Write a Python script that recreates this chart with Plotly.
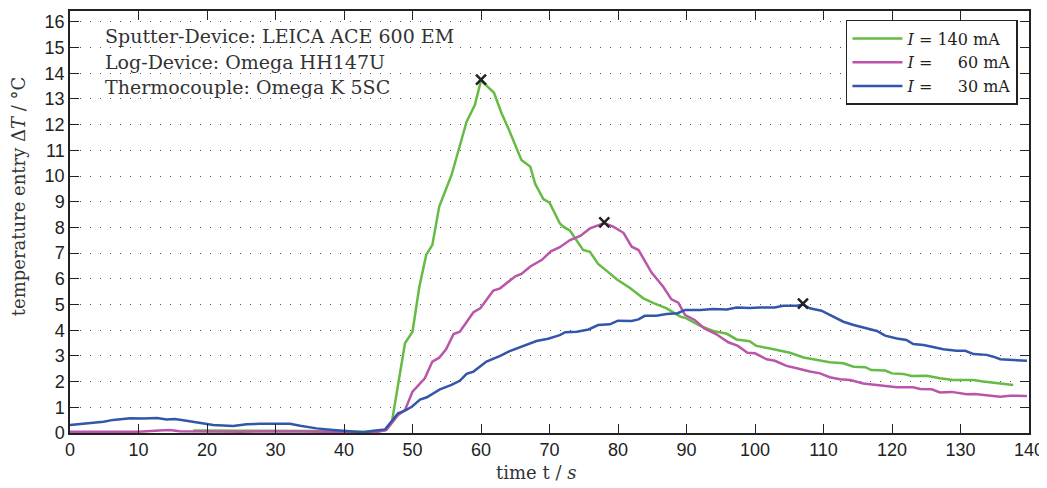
import plotly.graph_objects as go

# ---------------- data ----------------
t_140 = [18, 24, 30, 36, 40, 44, 46, 47, 48.9, 50, 51, 52, 52.9, 53.9, 55.7, 57.9, 59.1, 60, 61.9, 63, 64,
         65.9, 67.2, 67.9, 69.1, 70, 71.5, 72, 73, 74.9, 75.9, 77.1, 78.8, 79.8, 81.8, 83.7, 85.2, 87.1,
         89.1, 90, 92, 93.9, 95.9, 97.3, 99.2, 100.2, 102.2, 103.2, 105.1, 107.1, 109, 110.9, 112.9,
         114.4, 116.1, 117, 119, 120, 121.6, 122.9, 125.1, 127, 128.9, 131.9, 133.3, 135.8, 137.7]
dT_140 = [0.1, 0.1, 0.1, 0.08, 0.05, 0.05, 0.1, 0.44, 3.49, 3.94, 5.69, 6.93, 7.32, 8.81, 10.04, 12.11, 12.76,
          13.72, 13.24, 12.44, 11.85, 10.62, 10.36, 9.7, 9.1, 8.96, 8.16, 8.03, 7.87, 7.12, 7.05, 6.58, 6.21,
          5.98, 5.63, 5.24, 5.05, 4.85, 4.53, 4.46, 4.17, 3.97, 3.86, 3.64, 3.57, 3.39, 3.29, 3.23, 3.12,
          2.94, 2.84, 2.75, 2.71, 2.58, 2.56, 2.45, 2.43, 2.32, 2.30, 2.22, 2.23, 2.13, 2.06, 2.06, 2.0,
          1.93, 1.87]

t_60 = [0, 5, 10, 13, 14.6, 16, 20, 25, 30, 35, 40, 43, 45, 46.2, 47.9, 48.9, 50, 51.8, 52.9, 53.9, 54.9, 56,
        56.9, 58.9, 59.9, 61.8, 62.8, 63.7, 65, 65.9, 67.2, 68.9, 70.2, 71.5, 72, 73, 74.5, 75.9, 78, 79.3,
        80.8, 82, 83, 84.9, 86.6, 87.8, 88.8, 89.8, 91.2, 92.6, 94.3, 96.1, 97.5, 98.9, 100, 101.7, 102.9,
        104.6, 106.1, 108, 109.5, 110.9, 112.4, 113.9, 115.8, 118.2, 120.7, 123.1, 124.1, 125.8, 127,
        128.7, 130.9, 132.1, 133.8, 135.8, 137.2, 139.7]
dT_60 = [0.05, 0.05, 0.05, 0.1, 0.12, 0.07, 0.05, 0.05, 0.07, 0.05, 0.05, 0.03, 0.05, 0.12, 0.70, 0.89, 1.61,
         2.13, 2.78, 2.93, 3.26, 3.85, 3.94, 4.70, 4.85, 5.54, 5.63, 5.82, 6.1, 6.19, 6.48, 6.74, 7.07, 7.23,
         7.32, 7.51, 7.67, 7.96, 8.17, 8.03, 7.79, 7.25, 7.12, 6.24, 5.69, 5.20, 5.07, 4.59, 4.40, 4.07,
         3.85, 3.53, 3.39, 3.12, 3.10, 2.87, 2.81, 2.61, 2.52, 2.39, 2.32, 2.17, 2.09, 2.06, 1.93, 1.86,
         1.78, 1.78, 1.71, 1.70, 1.58, 1.60, 1.51, 1.52, 1.48, 1.41, 1.45, 1.44]

t_30 = [0, 1.5, 3.4, 4.9, 6.3, 8.8, 10.7, 12.7, 14.1, 15.3, 17, 19, 20.9, 23.8, 25.8, 27.7, 29.7, 32.1, 33.6,
        36, 38.4, 40.9, 42.8, 44.3, 46, 47.9, 48.9, 49.9, 51.1, 52.1, 54, 55.7, 56.9, 57.9, 58.9, 60.8,
        62.8, 64.1, 66.2, 68.1, 69.8, 71.5, 72.3, 74, 75.7, 77.1, 78.8, 80, 82, 83, 83.9, 85.6, 87.1, 88.7,
        89.8, 92, 93.9, 95.9, 97.3, 99.3, 100.7, 102.9, 104.1, 106.1, 107, 108, 109.7, 111.2, 112.9, 114.4,
        115.8, 117.8, 119, 120.7, 122.1, 123.1, 124.6, 126, 127.5, 129.4, 130.7, 131.9, 133.8, 134.8,
        135.8, 137.7, 139.7]
dT_30 = [0.31, 0.35, 0.40, 0.44, 0.51, 0.57, 0.56, 0.58, 0.53, 0.54, 0.48, 0.38, 0.31, 0.27, 0.34, 0.36, 0.36,
         0.36, 0.28, 0.18, 0.12, 0.08, 0.03, 0.09, 0.14, 0.77, 0.87, 1.02, 1.30, 1.39, 1.70, 1.87, 2.03,
         2.30, 2.39, 2.78, 3.0, 3.18, 3.40, 3.58, 3.67, 3.81, 3.92, 3.94, 4.03, 4.20, 4.23, 4.37, 4.36,
         4.42, 4.56, 4.56, 4.63, 4.66, 4.79, 4.79, 4.82, 4.81, 4.88, 4.86, 4.88, 4.88, 4.95, 4.95, 5.0,
         4.85, 4.76, 4.56, 4.33, 4.20, 4.11, 3.97, 3.79, 3.68, 3.62, 3.46, 3.42, 3.33, 3.26, 3.20, 3.20,
         3.07, 3.04, 2.97, 2.87, 2.84, 2.81]

t_peak = [60, 78, 107]
dT_peak = [13.75, 8.2, 5.03]

legend_names = ["<i>I</i> = 140 mA", "<i>I</i> = \u2007\u200760 mA", "<i>I</i> = \u2007\u200730 mA"]
colors = ["#66bb44", "#bb55aa", "#3355aa"]
info_lines = ["Sputter-Device: LEICA ACE 600 EM", "Log-Device: Omega HH147U", "Thermocouple: Omega K 5SC"]
x_ticks = list(range(0, 141, 10))
y_ticks = list(range(0, 17))

SERIF = "DejaVu Serif"
SANS = "Liberation Sans"
TXT = "#333333"

fig = go.Figure()
for t, d, name, c in zip([t_140, t_60, t_30], [dT_140, dT_60, dT_30], legend_names, colors):
    fig.add_trace(go.Scatter(x=t, y=d, mode="lines", name=name,
                             line=dict(color=c, width=2.5)))
fig.add_trace(go.Scatter(x=t_peak, y=dT_peak, mode="markers", showlegend=False,
                         marker=dict(symbol="x-thin", size=10, color="black",
                                     line=dict(color="#222222", width=2.5))))

axis_common = dict(showline=True, linecolor="#222222", linewidth=1.5, mirror="ticks",
                   ticks="inside", ticklen=9, tickcolor="#222222", tickwidth=1.2,
                   tickfont=dict(family=SANS, size=18, color="#222222"), zeroline=False,
                   automargin=False)

fig.update_xaxes(range=[0, 140], tickvals=x_ticks, showgrid=False, **axis_common)
fig.update_yaxes(range=[0, 16.42], tickvals=y_ticks, showgrid=True, gridcolor="#555555",
                 gridwidth=1, griddash="1px,9px", **axis_common)

annotations = []
for i, line in enumerate(info_lines):
    annotations.append(dict(x=4.8, y=15.45 - i * 1.0, xref="x", yref="y", text=line, showarrow=False,
                            xanchor="left", yanchor="middle",
                            font=dict(family=SERIF, size=19, color=TXT)))
annotations.append(dict(x=-0.054, y=0.5616, xref="paper", yref="paper", textangle=-90,
                        text="temperature entry \u0394<i>T</i> / \u00b0C", showarrow=False,
                        xanchor="center", yanchor="middle",
                        font=dict(family=SERIF, size=18, color=TXT)))
annotations.append(dict(x=0.486, y=-0.0925, xref="paper", yref="paper",
                        text="time t / <i>s</i>", showarrow=False,
                        xanchor="center", yanchor="middle",
                        font=dict(family=SERIF, size=18, color=TXT)))

# page body has an 8px default margin; size/margins compensate so the plot area
# lands at x 70..1029, y 11..433 in the 1047x488 window
fig.update_layout(
    width=1039, height=480,
    margin=dict(l=62, r=18, t=3, b=55, autoexpand=False),
    paper_bgcolor="white", plot_bgcolor="white",
    showlegend=True,
    legend=dict(x=0.9885, y=0.9787, xanchor="right", yanchor="top",
                bgcolor="white", bordercolor="#222222", borderwidth=1.5,
                font=dict(family=SERIF, size=16, color="#222222"),
                tracegroupgap=0, itemwidth=50),
    annotations=annotations,
)

fig.write_html("out.html")
